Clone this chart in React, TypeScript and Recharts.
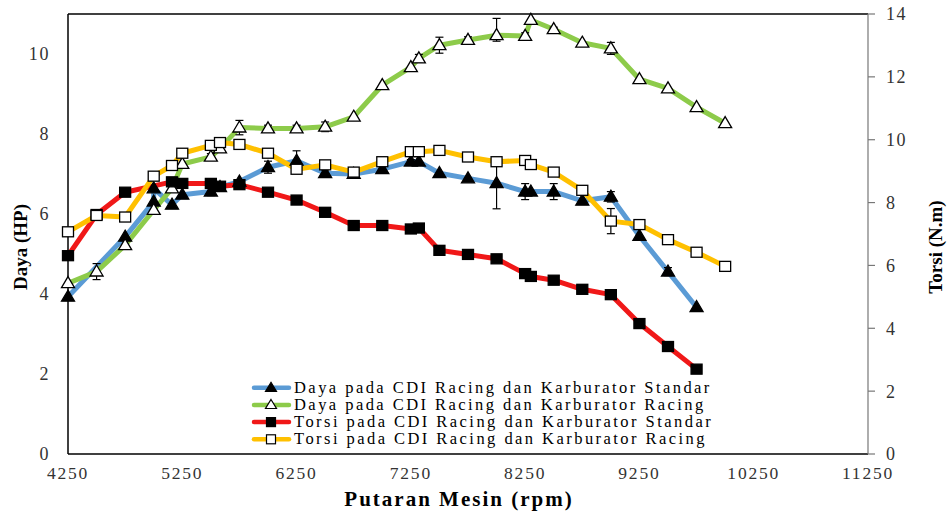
import React from 'react';
import { LineChart, Line, XAxis, YAxis, ErrorBar, ReferenceLine, Legend } from 'recharts';

// ---------- data ----------
const rpmTicks = [4250, 5250, 6250, 7250, 8250, 9250, 10250, 11250];
const dayaTicks = [0, 2, 4, 6, 8, 10];
const torsiTicks = [0, 2, 4, 6, 8, 10, 12, 14];

// Daya pada CDI Racing dan Karburator Standar (HP)
const dayaStandarRpm = [4250, 4750, 5000, 5000, 5160, 5250, 5500, 5580, 5750, 6000, 6250, 6500, 6750, 7000, 7250, 7320, 7500, 7750, 8000, 8250, 8300, 8500, 8750, 9000, 9250, 9500, 9750];
const dayaStandarHp = [3.93, 5.43, 6.31, 6.64, 6.23, 6.48, 6.56, 6.67, 6.81, 7.17, 7.33, 7.02, 7.0, 7.12, 7.31, 7.31, 7.02, 6.89, 6.77, 6.56, 6.56, 6.56, 6.33, 6.43, 5.45, 4.56, 3.67];
const dayaStandarErr: (number | number[] | null)[] = [null, null, null, null, null, null, 0.1, null, null, 0.15, 0.25, 0.08, null, 0.1, 0.05, null, null, null, [0.64, 0.42], 0.2, null, 0.2, null, 0.13, null, 0.1, null];

// Daya pada CDI Racing dan Karburator Racing (HP)
const dayaRacingRpm = [4250, 4500, 4750, 5000, 5160, 5250, 5500, 5580, 5750, 6000, 6250, 6500, 6750, 7000, 7250, 7320, 7500, 7750, 8000, 8250, 8300, 8500, 8750, 9000, 9250, 9500, 9750, 10000];
const dayaRacingHp = [4.27, 4.56, 5.22, 6.1, 6.64, 7.25, 7.43, 7.64, 8.16, 8.14, 8.14, 8.18, 8.43, 9.22, 9.67, 9.89, 10.22, 10.35, 10.47, 10.45, 10.85, 10.62, 10.28, 10.14, 9.37, 9.14, 8.67, 8.27];
const dayaRacingErr: (number | number[] | null)[] = [null, 0.2, null, null, null, null, 0.08, 0.08, 0.18, 0.08, 0.08, 0.12, null, null, null, 0.1, 0.2, 0.08, [0.15, 0.42], 0.08, null, 0.05, null, 0.15, null, null, null, null];

// Torsi pada CDI Racing dan Karburator Standar (N.m)
const torsiStandarRpm = [4250, 4500, 4750, 5160, 5250, 5500, 5580, 5750, 6000, 6250, 6500, 6750, 7000, 7250, 7320, 7500, 7750, 8000, 8250, 8300, 8500, 8750, 9000, 9250, 9500, 9750];
const torsiStandarNm = [6.31, 7.62, 8.33, 8.66, 8.61, 8.61, 8.52, 8.57, 8.33, 8.08, 7.69, 7.27, 7.27, 7.16, 7.19, 6.48, 6.35, 6.21, 5.74, 5.65, 5.53, 5.24, 5.07, 4.15, 3.42, 2.7];

// Torsi pada CDI Racing dan Karburator Racing (N.m)
const torsiRacingRpm = [4250, 4500, 4750, 5000, 5160, 5250, 5500, 5580, 5750, 6000, 6250, 6500, 6750, 7000, 7250, 7320, 7500, 7750, 8000, 8250, 8300, 8500, 8750, 9000, 9250, 9500, 9750, 10000];
const torsiRacingNm = [7.07, 7.59, 7.54, 8.84, 9.18, 9.57, 9.82, 9.91, 9.85, 9.57, 9.06, 9.2, 8.97, 9.3, 9.62, 9.62, 9.66, 9.45, 9.3, 9.34, 9.21, 8.97, 8.39, 7.41, 7.3, 6.82, 6.42, 5.97];
const torsiRacingErr: (number | number[] | null)[] = [null, null, null, null, null, null, null, null, null, null, null, 0.08, null, 0.08, null, null, null, null, null, null, 0.1, null, null, 0.4, null, null, null, null];

const seriesNames = [
  'Daya pada CDI Racing dan Karburator Standar',
  'Daya pada CDI Racing dan Karburator Racing',
  'Torsi pada CDI Racing dan Karburator Standar',
  'Torsi pada CDI Racing dan Karburator Racing',
];

const build = (xs: number[], ys: number[], es?: (number | number[] | null)[]) =>
  xs.map((x, i) => ({ rpm: x, v: ys[i], err: es ? es[i] : null }));

const dStd = build(dayaStandarRpm, dayaStandarHp, dayaStandarErr);
const dRac = build(dayaRacingRpm, dayaRacingHp, dayaRacingErr);
const tStd = build(torsiStandarRpm, torsiStandarNm);
const tRac = build(torsiRacingRpm, torsiRacingNm, torsiRacingErr);

// ---------- style ----------
const BLUE = '#5B9BD5';
const GREEN = '#8DCB4A';
const RED = '#F01818';
const YELLOW = '#FFC000';
const FONT = '"Liberation Serif", "Times New Roman", serif';

const triPath = (cx: number, cy: number, w: number, h: number) =>
  `M${cx},${cy - h * 0.6} L${cx + w / 2},${cy + h * 0.4} L${cx - w / 2},${cy + h * 0.4} Z`;

const makeTri = (fill: string, tag: string) => (p: any) => {
  if (p.cx == null || p.cy == null) return <g key={`${tag}-${p.index}`} />;
  return <path key={`${tag}-${p.index}`} d={triPath(p.cx, p.cy, 13, 11)} fill={fill} stroke="#000" strokeWidth={1.3} />;
};
const makeSq = (fill: string, tag: string) => (p: any) => {
  if (p.cx == null || p.cy == null) return <g key={`${tag}-${p.index}`} />;
  return <rect key={`${tag}-${p.index}`} x={p.cx - 5.5} y={p.cy - 5} width={11} height={10} fill={fill} stroke="#000" strokeWidth={1.3} />;
};

const legendItems = [
  { name: seriesNames[0], color: BLUE, kind: 'tri', fill: '#000' },
  { name: seriesNames[1], color: GREEN, kind: 'tri', fill: '#fff' },
  { name: seriesNames[2], color: RED, kind: 'sq', fill: '#000' },
  { name: seriesNames[3], color: YELLOW, kind: 'sq', fill: '#fff' },
];

const renderLegend = () => (
  <svg width={480} height={76} style={{ display: 'block' }}>
    {legendItems.map((it, i) => {
      const cy = 10.7 + i * 17.2;
      return (
        <g key={it.name}>
          <line x1={6} y1={cy} x2={41} y2={cy} stroke={it.color} strokeWidth={4.5} strokeLinecap="round" />
          {it.kind === 'tri' ? (
            <path d={triPath(23, cy, 11, 9)} fill={it.fill} stroke="#000" strokeWidth={1.2} />
          ) : (
            <rect x={18.5} y={cy - 4.5} width={9} height={9} fill={it.fill} stroke="#000" strokeWidth={1.2} />
          )}
          <text x={46} y={cy + 5} fontFamily={FONT} fontSize={16.5} letterSpacing={2.45} fill="#000">
            {it.name}
          </text>
        </g>
      );
    })}
  </svg>
);

const tickStyle = { fontFamily: FONT, fontSize: 18, letterSpacing: 1.6, fill: '#333' };
const xTickStyle = { fontFamily: FONT, fontSize: 17.5, letterSpacing: 1.8, fill: '#333' };

export default function App() {
  return (
    <div style={{ position: 'absolute', left: 0, top: 0, width: 952, height: 511, background: '#fff' }}>
      <LineChart width={952} height={511} margin={{ top: 14, right: 0, bottom: 0, left: 0 }}>
        <XAxis
          dataKey="rpm"
          type="number"
          domain={[4250, 11250]}
          ticks={rpmTicks}
          allowDuplicatedCategory={false}
          height={57}
          tickSize={0}
          tickMargin={13}
          tick={xTickStyle}
          axisLine={{ stroke: '#000', strokeWidth: 1.5 }}
          tickLine={false}
          label={{
            content: () => (
              <text x={459} y={506} textAnchor="middle" fontFamily={FONT} fontSize={21} fontWeight="bold" letterSpacing={2} fill="#000">
                Putaran Mesin (rpm)
              </text>
            ),
          }}
        />
        <YAxis
          yAxisId="left"
          domain={[0, 11]}
          ticks={dayaTicks}
          width={68}
          tickSize={0}
          tickMargin={18}
          tick={tickStyle}
          axisLine={{ stroke: '#000', strokeWidth: 1.5 }}
          tickLine={false}
          label={{
            content: () => (
              <text x={27} y={247} transform="rotate(-90 27 247)" textAnchor="middle" fontFamily={FONT} fontSize={19} fontWeight="bold" fill="#000">
                Daya (HP)
              </text>
            ),
          }}
        />
        <YAxis
          yAxisId="right"
          orientation="right"
          domain={[0, 14]}
          ticks={torsiTicks}
          width={84}
          tickSize={7}
          tickMargin={11}
          tick={tickStyle}
          axisLine={{ stroke: '#777', strokeWidth: 1.2 }}
          tickLine={{ stroke: '#777', strokeWidth: 1.2 }}
          label={{
            content: () => (
              <text x={942} y={247} transform="rotate(-90 942 247)" textAnchor="middle" fontFamily={FONT} fontSize={19} fontWeight="bold" fill="#000">
                Torsi (N.m)
              </text>
            ),
          }}
        />
        <ReferenceLine yAxisId="left" y={11} stroke="#000" strokeWidth={1.3} />

        {/* line pass */}
        <Line data={dStd} dataKey="v" yAxisId="left" type="linear" stroke={BLUE} strokeWidth={5} strokeLinejoin="round" dot={false} activeDot={false} isAnimationActive={false} />
        <Line data={dRac} dataKey="v" yAxisId="left" type="linear" stroke={GREEN} strokeWidth={5} strokeLinejoin="round" dot={false} activeDot={false} isAnimationActive={false} />
        <Line data={tStd} dataKey="v" yAxisId="right" type="linear" stroke={RED} strokeWidth={5} strokeLinejoin="round" dot={false} activeDot={false} isAnimationActive={false} />
        <Line data={tRac} dataKey="v" yAxisId="right" type="linear" stroke={YELLOW} strokeWidth={5} strokeLinejoin="round" dot={false} activeDot={false} isAnimationActive={false} />

        {/* marker pass */}
        <Line data={dStd} dataKey="v" yAxisId="left" type="linear" stroke="none" dot={makeTri('#000', 'ds')} activeDot={false} isAnimationActive={false}>
          <ErrorBar dataKey="err" direction="y" width={4} stroke="#000" strokeWidth={1.2} />
        </Line>
        <Line data={dRac} dataKey="v" yAxisId="left" type="linear" stroke="none" dot={makeTri('#fff', 'dr')} activeDot={false} isAnimationActive={false}>
          <ErrorBar dataKey="err" direction="y" width={4} stroke="#000" strokeWidth={1.2} />
        </Line>
        <Line data={tStd} dataKey="v" yAxisId="right" type="linear" stroke="none" dot={makeSq('#000', 'ts')} activeDot={false} isAnimationActive={false} />
        <Line data={tRac} dataKey="v" yAxisId="right" type="linear" stroke="none" dot={makeSq('#fff', 'tr')} activeDot={false} isAnimationActive={false}>
          <ErrorBar dataKey="err" direction="y" width={4} stroke="#000" strokeWidth={1.2} />
        </Line>

        <Legend
          layout="vertical"
          align="center"
          verticalAlign="middle"
          content={renderLegend}
          wrapperStyle={{ position: 'absolute', left: 248, top: 377, width: 480, height: 76 }}
        />
      </LineChart>
    </div>
  );
}
